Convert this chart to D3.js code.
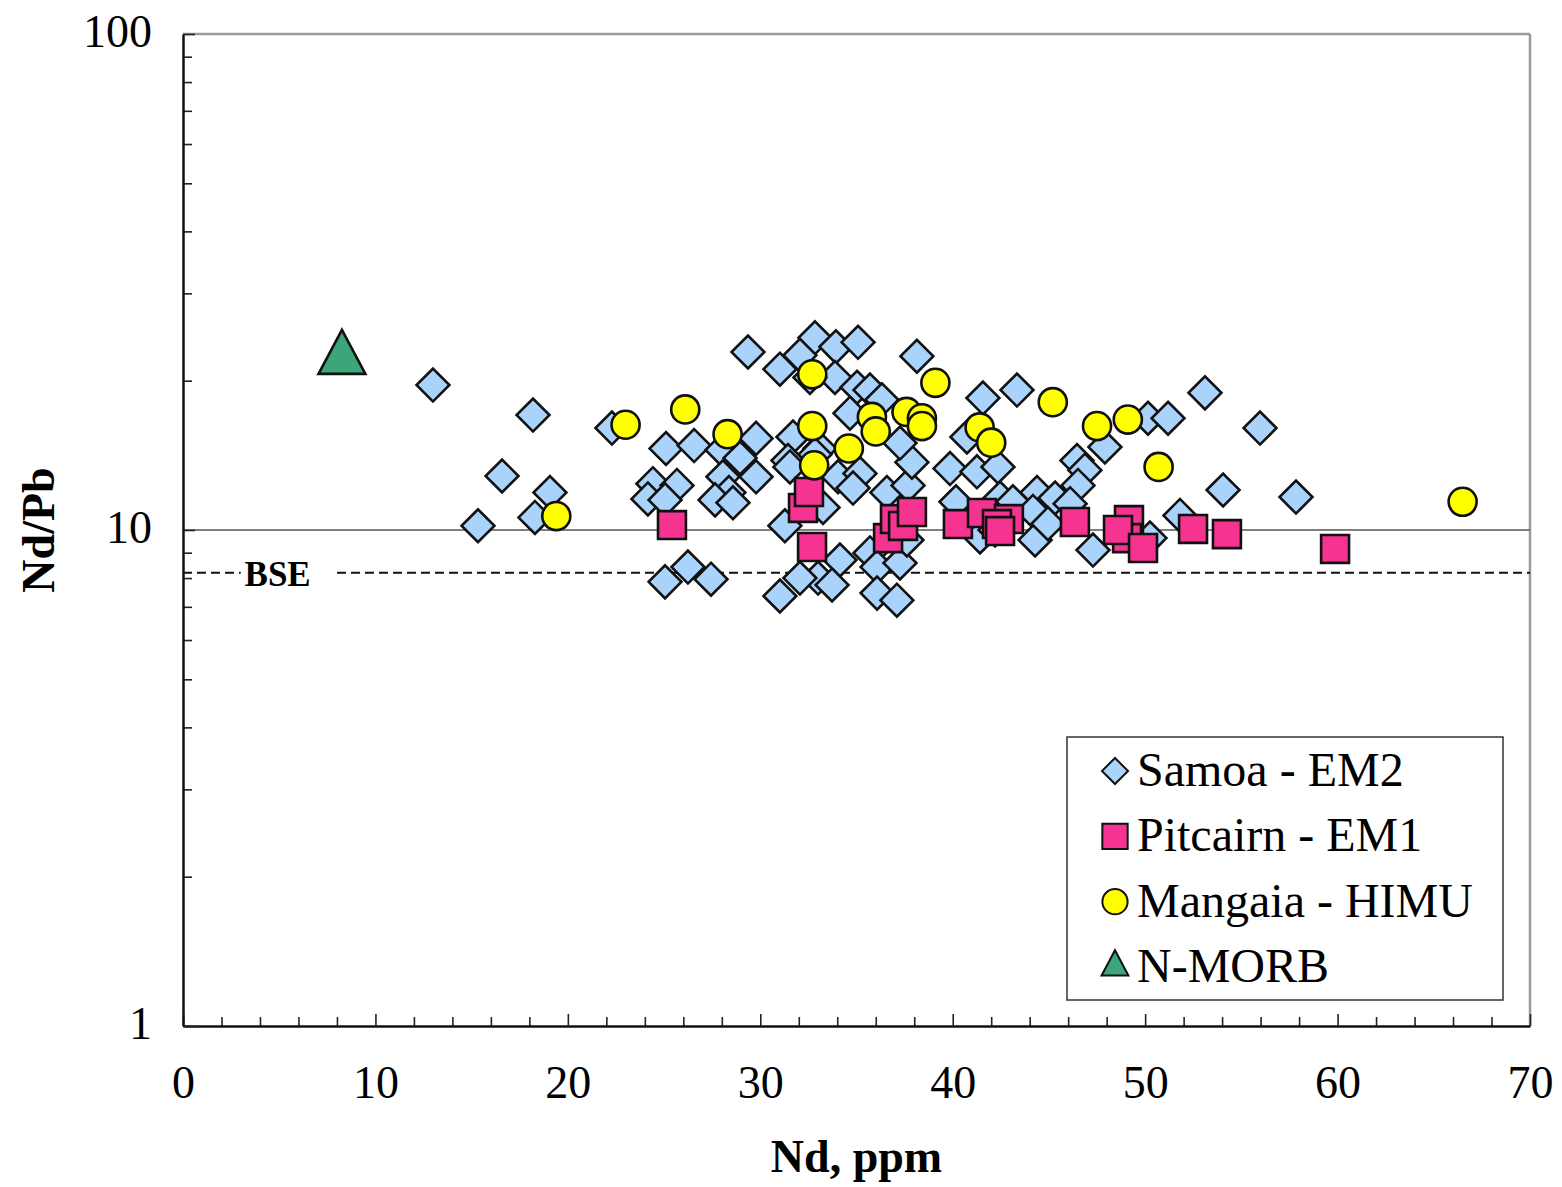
<!DOCTYPE html>
<html>
<head>
<meta charset="utf-8">
<script src="https://cdn.jsdelivr.net/npm/d3@7"></script>
<style>
  body { margin: 0; background: #fff; }
  text { font-family: "Liberation Serif", "Times New Roman", serif; fill: #000; }
</style>
</head>
<body>
<script>
// Samoa - EM2 (Nd ppm, Nd/Pb)
const samoaNd = [12.99, 18.19, 16.58, 19.07, 18.29, 15.33, 22.29, 25.10, 26.56, 24.42, 25.67, 24.16, 25.05, 25.05, 26.24, 27.44,
  29.36, 31.02, 28.01, 28.95, 29.78, 28.06, 29.78, 28.37, 27.65, 28.58, 31.28, 31.02,
  32.84, 33.93, 35.08, 32.06, 33.88, 32.58, 35.03, 35.70, 36.32, 34.66, 31.70, 31.44, 31.54, 33.10, 32.84, 34.04, 35.18, 34.82,
  36.58, 37.68, 33.26, 34.14, 35.70, 36.07, 37.26, 37.62, 33.00, 33.73, 32.06, 36.07, 37.10, 37.88, 37.26, 38.14,
  41.57, 43.34, 40.74, 39.86, 41.26, 42.35, 40.17, 42.46, 43.13, 44.38, 45.32, 44.17, 44.28, 44.95, 41.42, 42.20,
  46.46, 46.87, 46.51, 46.10, 47.29, 47.91, 53.11, 50.15, 51.19, 55.97, 54.05, 57.84, 51.81, 50.25];
const samoaRatio = [19.6, 17.05, 12.85, 11.9, 10.6, 10.2, 16.05, 14.6, 14.8, 12.4, 12.3, 11.55, 11.5, 7.86, 8.42, 7.96,
  22.85, 21.1, 14.5, 13.97, 15.3, 12.8, 12.8, 11.9, 11.5, 11.35, 10.2, 7.36,
  24.4, 23.4, 23.9, 22.5, 20.3, 20.3, 19.4, 19.15, 18.3, 17.2, 15.4, 13.8, 13.4, 14.6, 14.2, 12.8, 13.0, 12.15,
  11.9, 12.3, 11.1, 8.70, 8.99, 8.42, 8.58, 9.55, 8.00, 7.75, 8.00, 7.46, 7.22, 13.7, 14.97, 22.4,
  18.45, 19.15, 15.4, 13.3, 13.1, 13.4, 11.4, 11.6, 11.4, 11.9, 11.6, 10.9, 9.55, 10.3, 9.68, 10.0,
  13.8, 13.2, 12.3, 11.3, 9.11, 14.7, 18.9, 16.8, 16.8, 16.05, 12.04, 11.65, 10.7, 9.63];

// Pitcairn - EM1
const pitcairnNd = [25.41, 32.22, 32.53, 32.69, 36.64, 37.00, 37.42, 37.88, 40.27, 41.52, 42.92, 42.30, 42.46,
  46.35, 49.16, 49.06, 48.59, 49.89, 52.49, 54.25, 59.87];
const pitcairnRatio = [10.23, 11.08, 11.93, 9.24, 9.63, 10.52, 10.19, 10.87, 10.28, 10.82, 10.52, 10.28, 9.95,
  10.38, 10.47, 9.63, 10.0, 9.20, 10.05, 9.81, 9.16];

// Mangaia - HIMU
const mangaiaNd = [19.4, 23.0, 26.1, 28.3, 32.7, 32.7, 32.8, 34.6, 35.8, 36.0, 37.6, 38.4, 38.4, 39.1,
  41.4, 42.0, 45.2, 47.5, 49.1, 50.7, 66.5];
const mangaiaRatio = [10.67, 16.3, 17.5, 15.6, 20.6, 16.2, 13.5, 14.6, 16.9, 15.8, 17.3, 16.8, 16.2, 19.8,
  16.1, 15.0, 18.1, 16.2, 16.7, 13.4, 11.4];

// N-MORB
const morbNd = [8.26];
const morbRatio = [22.1];

const bse = 8.2;
const xTicks = [0, 10, 20, 30, 40, 50, 60, 70];
const yTicks = [1, 10, 100];
const legendLabels = ["Samoa - EM2", "Pitcairn - EM1", "Mangaia - HIMU", "N-MORB"];

const width = 1562, height = 1187;
const margin = { top: 34, right: 32, bottom: 161, left: 183 };

const svg = d3.select("body").append("svg")
  .attr("width", width)
  .attr("height", height);

const x = d3.scaleLinear().domain([0, 70]).range([margin.left, width - margin.right]);
const y = d3.scaleLog().domain([1, 100]).range([height - margin.bottom, margin.top]);

// triangle with a flat base, centred on its centroid
const triangle = {
  draw(ctx, size) {
    const w = Math.sqrt(size);
    const h = w * 0.94;
    ctx.moveTo(0, -h * 2 / 3);
    ctx.lineTo(w / 2, h / 3);
    ctx.lineTo(-w / 2, h / 3);
    ctx.closePath();
  }
};

const series = [
  { name: legendLabels[0], xs: samoaNd, ys: samoaRatio, type: d3.symbolSquare, size: 540, rot: 45, fill: "#a9d3fb", legendSize: 340 },
  { name: legendLabels[1], xs: pitcairnNd, ys: pitcairnRatio, type: d3.symbolSquare, size: 780, rot: 0, fill: "#f53391", legendSize: 640 },
  { name: legendLabels[2], xs: mangaiaNd, ys: mangaiaRatio, type: d3.symbolCircle, size: 620, rot: 0, fill: "#ffff00", legendSize: 500 },
  { name: legendLabels[3], xs: morbNd, ys: morbRatio, type: triangle, size: 2200, rot: 0, fill: "#3da57a", legendSize: 720 }
];

// top and right frame
svg.append("line")
  .attr("x1", x(0)).attr("x2", x(70)).attr("y1", y(100)).attr("y2", y(100))
  .attr("stroke", "#9a9a9a").attr("stroke-width", 2.5);
svg.append("line")
  .attr("x1", x(70)).attr("x2", x(70)).attr("y1", y(100)).attr("y2", y(1))
  .attr("stroke", "#9a9a9a").attr("stroke-width", 2.5);

// reference line at 10
svg.append("line")
  .attr("x1", x(0)).attr("x2", x(70)).attr("y1", y(10)).attr("y2", y(10))
  .attr("stroke", "#555").attr("stroke-width", 1.6);

// BSE dashed line
svg.append("line")
  .attr("x1", x(0)).attr("x2", x(70)).attr("y1", y(bse)).attr("y2", y(bse))
  .attr("stroke", "#111").attr("stroke-width", 2).attr("stroke-dasharray", "9,5");

const bseLabel = svg.append("g");
bseLabel.append("rect")
  .attr("x", x(3)).attr("y", y(bse) - 16).attr("width", 92).attr("height", 32)
  .attr("fill", "#fff");
bseLabel.append("text")
  .attr("x", x(3.2)).attr("y", y(bse) + 13)
  .attr("font-size", 35).attr("font-weight", "bold")
  .text("BSE");

// x axis: minor ticks every 2, labelled majors every 10
const minorX = d3.range(0, 71, 2).filter(d => d % 10 !== 0);
svg.append("g")
  .attr("transform", `translate(0,${y(1)})`)
  .call(d3.axisBottom(x).tickValues(minorX).tickSize(-9).tickSizeOuter(0).tickFormat(""))
  .call(g => g.select(".domain").remove())
  .call(g => g.selectAll("line").attr("stroke", "#222").attr("stroke-width", 1.6));

svg.append("g")
  .attr("transform", `translate(0,${y(1)})`)
  .call(d3.axisBottom(x).tickValues(xTicks).tickSize(-12).tickSizeOuter(0).tickPadding(39).tickFormat(d3.format("d")))
  .call(g => g.select(".domain").attr("stroke", "#111").attr("stroke-width", 2.5))
  .call(g => g.selectAll("line").attr("stroke", "#222").attr("stroke-width", 1.6))
  .call(g => g.selectAll("text").attr("font-size", 46).attr("font-family", "Liberation Serif, Times New Roman, serif").attr("fill", "#000"));

// y axis: minor ticks 2..9 in each decade
const minorY = [];
[1, 10].forEach(dec => { for (let k = 2; k <= 9; k++) minorY.push(k * dec); });
svg.append("g")
  .attr("transform", `translate(${x(0)},0)`)
  .call(d3.axisLeft(y).tickValues(minorY).tickSize(-9).tickSizeOuter(0).tickFormat(""))
  .call(g => g.select(".domain").remove())
  .call(g => g.selectAll("line").attr("stroke", "#222").attr("stroke-width", 1.6));

svg.append("g")
  .attr("transform", `translate(${x(0)},0)`)
  .call(d3.axisLeft(y).tickValues(yTicks).tickSize(-12).tickSizeOuter(0).tickPadding(31).tickFormat(d3.format("d")))
  .call(g => g.select(".domain").attr("stroke", "#111").attr("stroke-width", 2.5))
  .call(g => g.selectAll("line").attr("stroke", "#222").attr("stroke-width", 1.6))
  .call(g => g.selectAll("text").attr("font-size", 46).attr("dy", "0.28em").attr("font-family", "Liberation Serif, Times New Roman, serif").attr("fill", "#000"));

// axis titles
svg.append("text")
  .attr("x", (x(0) + x(70)) / 2).attr("y", 1172)
  .attr("text-anchor", "middle").attr("font-size", 46).attr("font-weight", "bold")
  .text("Nd, ppm");
svg.append("text")
  .attr("transform", `translate(54,${y(10)}) rotate(-90)`)
  .attr("text-anchor", "middle").attr("font-size", 46).attr("font-weight", "bold")
  .text("Nd/Pb");

// points
series.forEach(s => {
  const sym = d3.symbol().type(s.type).size(s.size);
  svg.append("g").selectAll("path")
    .data(s.xs.map((v, i) => [v, s.ys[i]]))
    .join("path")
      .attr("d", sym)
      .attr("transform", d => `translate(${x(d[0])},${y(d[1])}) rotate(${s.rot})`)
      .attr("fill", s.fill)
      .attr("stroke", "#111")
      .attr("stroke-width", 2.6);
});

// legend
const legend = svg.append("g").attr("transform", "translate(1067,737)");
legend.append("rect")
  .attr("width", 436).attr("height", 263)
  .attr("fill", "#fff").attr("stroke", "#333").attr("stroke-width", 1.5);

const rowY = d3.scalePoint().domain(legendLabels).range([34, 230]);
series.forEach(s => {
  const row = legend.append("g").attr("transform", `translate(48,${rowY(s.name)})`);
  row.append("path")
    .attr("d", d3.symbol().type(s.type).size(s.legendSize))
    .attr("transform", `rotate(${s.rot})`)
    .attr("fill", s.fill).attr("stroke", "#111").attr("stroke-width", 2);
  row.append("text")
    .attr("x", 22).attr("y", 15)
    .attr("font-size", 48)
    .text(s.name);
});
</script>
</body>
</html>
